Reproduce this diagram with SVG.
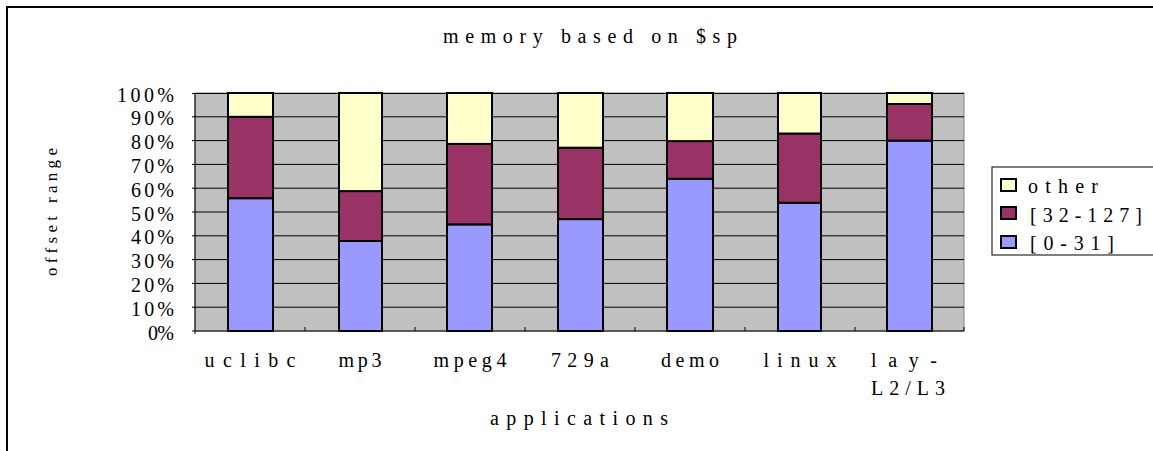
<svg xmlns="http://www.w3.org/2000/svg" width="1153" height="451" viewBox="0 0 1153 451">
<style>
text{font-family:"Liberation Serif","DejaVu Serif",serif;font-size:20px;fill:#000}
.yl{text-anchor:end}
.xl{text-anchor:middle}
.grid{stroke:#000;stroke-width:1}
.bar{stroke:#000;stroke-width:2}
.b{fill:#9999FF}.r{fill:#993366}.y{fill:#FFFFCC}
</style>
<rect width="1153" height="451" fill="#fff"/>
<path d="M7 451V7H1153" fill="none" stroke="#000" stroke-width="2"/>
<text x="443" y="43" textLength="294" lengthAdjust="spacing">memory based on $sp</text>
<g id="plot">
<rect x="195" y="93" width="769" height="238" fill="#C0C0C0" stroke="#808080" stroke-width="1"/>
<g class="grid">
<path d="M192 93.5H964M192 116.8H964M192 140.6H964M192 164.4H964M192 188.2H964M192 212H964M192 235.8H964M192 259.6H964M192 283.4H964M192 307.2H964"/>
<path d="M195 93V334M192 331H964"/>
<path d="M305 331v-4M415 331v-4M525 331v-4M635 331v-4M745 331v-4M855 331v-4M964 331v-4"/>
</g>
</g>
<g id="yaxis">
<text class="yl" x="174" y="102" textLength="57" lengthAdjust="spacing">100%</text>
<text class="yl" x="174" y="125" textLength="43" lengthAdjust="spacing">90%</text>
<text class="yl" x="174" y="149" textLength="43" lengthAdjust="spacing">80%</text>
<text class="yl" x="174" y="173" textLength="43" lengthAdjust="spacing">70%</text>
<text class="yl" x="174" y="197" textLength="43" lengthAdjust="spacing">60%</text>
<text class="yl" x="174" y="221" textLength="43" lengthAdjust="spacing">50%</text>
<text class="yl" x="174" y="244" textLength="43" lengthAdjust="spacing">40%</text>
<text class="yl" x="174" y="268" textLength="43" lengthAdjust="spacing">30%</text>
<text class="yl" x="174" y="292" textLength="43" lengthAdjust="spacing">20%</text>
<text class="yl" x="174" y="316" textLength="43" lengthAdjust="spacing">10%</text>
<text class="yl" x="174" y="340" textLength="26" lengthAdjust="spacing">0%</text>
<text transform="translate(57 212) rotate(-90)" text-anchor="middle" style="font-size:17px" textLength="128" lengthAdjust="spacing">offset range</text>
</g>
<g id="bar-uclibc">
<rect class="bar b" x="228" y="198.2" width="45" height="132.8"/>
<rect class="bar r" x="228" y="116.8" width="45" height="81.4"/>
<rect class="bar y" x="228" y="93" width="45" height="23.8"/>
</g>
<g id="bar-mp3">
<rect class="bar b" x="339" y="241" width="43" height="90"/>
<rect class="bar r" x="339" y="191.1" width="43" height="49.9"/>
<rect class="bar y" x="339" y="93" width="43" height="98.1"/>
</g>
<g id="bar-mpeg4">
<rect class="bar b" x="447" y="224.4" width="45" height="106.6"/>
<rect class="bar r" x="447" y="143.9" width="45" height="80.5"/>
<rect class="bar y" x="447" y="93" width="45" height="50.9"/>
</g>
<g id="bar-729a">
<rect class="bar b" x="558" y="219.1" width="45" height="111.9"/>
<rect class="bar r" x="558" y="147.7" width="45" height="71.4"/>
<rect class="bar y" x="558" y="93" width="45" height="54.7"/>
</g>
<g id="bar-demo">
<rect class="bar b" x="667" y="178.7" width="46" height="152.3"/>
<rect class="bar r" x="667" y="141.1" width="46" height="37.6"/>
<rect class="bar y" x="667" y="93" width="46" height="48.1"/>
</g>
<g id="bar-linux">
<rect class="bar b" x="778" y="202.7" width="43" height="128.3"/>
<rect class="bar r" x="778" y="133.5" width="43" height="69.2"/>
<rect class="bar y" x="778" y="93" width="43" height="40.5"/>
</g>
<g id="bar-lay">
<rect class="bar b" x="887" y="140.6" width="45" height="190.4"/>
<rect class="bar r" x="887" y="104" width="45" height="36.6"/>
<rect class="bar y" x="887" y="93" width="45" height="11"/>
</g>
<g id="xaxis">
<text class="xl" x="250" y="367" textLength="91" lengthAdjust="spacing">uclibc</text>
<text class="xl" x="360" y="367" textLength="43" lengthAdjust="spacing">mp3</text>
<text class="xl" x="470" y="367" textLength="73" lengthAdjust="spacing">mpeg4</text>
<text class="xl" x="580" y="367" textLength="58" lengthAdjust="spacing">729a</text>
<text class="xl" x="690" y="367" textLength="58" lengthAdjust="spacing">demo</text>
<text class="xl" x="800" y="367" textLength="73" lengthAdjust="spacing">linux</text>
<text x="871" y="367" textLength="66" lengthAdjust="spacing">lay-</text>
<text x="871" y="395" textLength="74" lengthAdjust="spacing">L2/L3</text>
<text class="xl" x="579" y="425" textLength="178" lengthAdjust="spacing">applications</text>
</g>
<g id="legend">
<rect x="992" y="167" width="170" height="88" fill="#fff" stroke="#000" stroke-width="1"/>
<rect class="bar y" x="1001" y="179" width="15" height="12" stroke-width="1.5"/>
<rect class="bar r" x="1001" y="207" width="15" height="12" stroke-width="1.5"/>
<rect class="bar b" x="1001" y="236" width="15" height="12" stroke-width="1.5"/>
<text x="1028" y="193" textLength="70" lengthAdjust="spacing">other</text>
<text x="1030" y="222" textLength="112" lengthAdjust="spacing">[32-127]</text>
<text x="1030" y="250" textLength="84" lengthAdjust="spacing">[0-31]</text>
</g>
</svg>
